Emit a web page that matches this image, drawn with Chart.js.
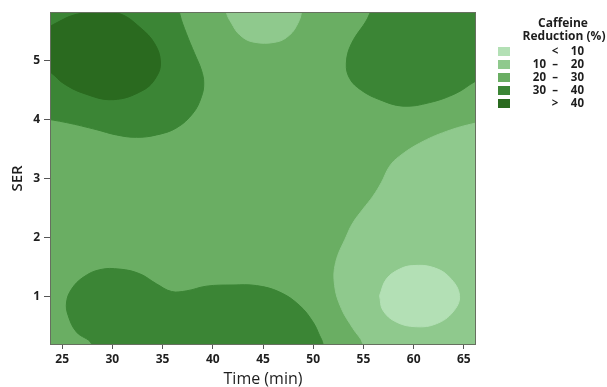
<!DOCTYPE html>
<html>
<head>
<meta charset="utf-8">
<script src="https://cdn.jsdelivr.net/npm/chart.js@4.4.0/dist/chart.umd.min.js"></script>
<style>
  html, body { margin:0; padding:0; background:#fff; }
  #wrap { position:relative; width:607px; height:387px; }
</style>
</head>
<body>
<div id="wrap"><canvas id="grafico"></canvas></div>
<script>
// ── Eixos ─────────────────────────────────────────────
const TEMPO_MIN = 23.79, TEMPO_MAX = 66.21;
const SER_MIN = 0.17, SER_MAX = 5.83;
const tempoTicks = [25, 30, 35, 40, 45, 50, 55, 60, 65];
const serTicks = [1, 2, 3, 4, 5];

// ── Faixas de redução de cafeína (%) ──────────────────
const faixaDe  = ['', '10', '20', '30', ''];
const faixaSim = ['<', '–', '–', '–', '>'];
const faixaAte = ['10', '20', '30', '40', '40'];
const CORES = ['#b3e0b5', '#8fc98d', '#6aae63', '#3b8535', '#2a6a1f'];

// ── Contornos: [tempo, SER] ───────────────────────────
// fundo = faixa 20–30
const c30SupEsq = [[22.8,4.03],[25.44,3.95],[28.42,3.83],[30.41,3.74],[32.40,3.70],[34.39,3.74],[36.38,3.86],
  [38.03,4.11],[38.87,4.39],[39.10,4.62],[38.87,4.84],[38.20,5.12],[37.38,5.46],[36.71,5.80],[36.5,6.1],[22.8,6.1]];
const c40SupEsq = [[23.0,5.50],[24.6,5.66],[26.43,5.79],[28.75,5.81],[30.74,5.80],[32.74,5.57],[34.22,5.29],
  [34.79,4.98],[34.39,4.73],[33.06,4.50],[30.07,4.34],[27.09,4.45],[25.1,4.62],[23.95,4.79],[23.0,4.88]];
const c30SupDir = [[55.7,6.1],[55.62,5.80],[53.80,5.29],[53.30,4.96],[53.63,4.70],[54.79,4.50],[56.61,4.34],
  [58.93,4.23],[61.59,4.29],[64.24,4.45],[66.13,4.65],[67.5,4.75],[67.5,6.1]];
const c20Topo = [[41.2,6.1],[41.36,5.82],[41.86,5.64],[42.69,5.44],[44.0,5.32],[46.33,5.32],[47.66,5.44],
  [48.48,5.64],[48.82,5.82],[48.9,6.1]];
const c20Dir = [[68,3.98],[66.13,3.94],[63.25,3.80],[60.59,3.60],[58.60,3.38],[57.61,3.21],[56.78,2.93],
  [55.95,2.70],[54.95,2.48],[53.96,2.25],[53.30,2.02],[52.23,1.57],[52.13,1.18],[52.80,0.79],[53.96,0.45],
  [54.95,0.19],[55.4,-0.3],[68,-0.3]];
const c10Dir = [[56.61,1.01],[57.28,1.29],[58.60,1.46],[59.93,1.52],[61.92,1.49],[63.58,1.32],[64.57,1.01],
  [63.91,0.73],[62.25,0.53],[60.26,0.48],[58.27,0.56],[56.94,0.76],[56.61,1.01]];
const c30Inf = [[28.2,-0.2],[27.93,0.19],[26.43,0.39],[25.60,0.67],[25.44,0.90],[25.94,1.12],[27.09,1.32],
  [28.75,1.45],[30.74,1.46],[32.73,1.38],[34.39,1.21],[35.89,1.08],[37.38,1.09],[39.37,1.17],[42.01,1.19],
  [44.34,1.18],[46.66,1.07],[48.65,0.84],[49.98,0.56],[50.64,0.33],[50.97,0.19],[51.2,-0.2]];

// ordem de pintura (de baixo para cima) e faixa de cada contorno
const regioes = [
  [c30SupEsq, 3], [c40SupEsq, 4], [c30SupDir, 3], [c20Topo, 1],
  [c20Dir, 1], [c10Dir, 0], [c30Inf, 3],
];

const datasets = regioes.map(([pts, nv]) => ({
  data: pts.map(([x, y]) => ({ x, y })),
  showLine: true, fill: 'shape', tension: 0.4,
  backgroundColor: CORES[nv], borderColor: CORES[nv], borderWidth: 1,
  pointRadius: 0, pointHoverRadius: 0,
})).reverse();   // dataset 0 fica por cima

const TXT = '#1e1e1e';
const FONTE = '"Open Sans", "DejaVu Sans", sans-serif';

// fundo (20–30) + moldura
const moldura = {
  id: 'moldura',
  beforeDatasetsDraw(chart) {
    const { ctx, chartArea: a } = chart;
    ctx.save();
    ctx.fillStyle = CORES[2];
    ctx.fillRect(a.left, a.top, a.right - a.left, a.bottom - a.top);
    ctx.restore();
  },
  afterDatasetsDraw(chart) {
    const { ctx, chartArea: a } = chart;
    ctx.save();
    ctx.strokeStyle = '#66705f';
    ctx.lineWidth = 1;
    ctx.strokeRect(a.left + 0.5, a.top + 0.5, a.right - a.left - 1, a.bottom - a.top - 1);
    ctx.restore();
  },
};

// legenda de faixas
const legendaFaixas = {
  id: 'legendaFaixas',
  afterDraw(chart) {
    const { ctx, chartArea: a } = chart;
    const x0 = a.right + 22;
    ctx.save();
    ctx.fillStyle = TXT;
    ctx.font = `bold 12px ${FONTE}`;
    ctx.textBaseline = 'middle';
    ctx.textAlign = 'center';
    ctx.fillText('Caffeine', x0 + 65, 24);
    ctx.fillText('Reduction (%)', x0 + 66, 37);
    ctx.font = `bold 11.5px ${FONTE}`;
    CORES.forEach((cor, i) => {
      const y = 51.5 + i * 13;
      ctx.fillStyle = cor;
      ctx.fillRect(x0, y - 4.5, 12, 9);
      ctx.fillStyle = TXT;
      ctx.textAlign = 'right';
      ctx.fillText(faixaDe[i], x0 + 48, y);
      ctx.textAlign = 'center';
      ctx.fillText(faixaSim[i], x0 + 57, y);
      ctx.textAlign = 'right';
      ctx.fillText(faixaAte[i], x0 + 86, y);
    });
    ctx.restore();
  },
};

new Chart(document.getElementById('grafico'), {
  type: 'scatter',
  data: { datasets },
  options: {
    responsive: true, maintainAspectRatio: false,
    animation: false, events: [],
    layout: { padding: { top: 12, right: 131, left: 0, bottom: 0 } },
    elements: { line: { capBezierPoints: false } },
    plugins: { legend: { display: false }, tooltip: { enabled: false } },
    scales: {
      x: {
        type: 'linear', min: TEMPO_MIN, max: TEMPO_MAX,
        afterBuildTicks: s => { s.ticks = tempoTicks.map(v => ({ value: v })); },
        afterFit: s => { s.height = 42; },
        grid: { drawOnChartArea: false, tickLength: 4, color: '#555' },
        border: { display: false },
        ticks: { color: TXT, padding: 3, font: { family: FONTE, size: 12, weight: 'bold' } },
        title: { display: true, text: 'Time (min)', color: TXT, padding: 0,
                 font: { family: FONTE, size: 16, lineHeight: 1 } },
      },
      y: {
        type: 'linear', min: SER_MIN, max: SER_MAX,
        afterBuildTicks: s => { s.ticks = serTicks.map(v => ({ value: v })); },
        afterFit: s => { s.width = 50; },
        grid: { drawOnChartArea: false, tickLength: 6, color: '#555' },
        border: { display: false },
        ticks: { color: TXT, padding: 4, font: { family: FONTE, size: 12, weight: 'bold' } },
        title: { display: true, text: 'SER', color: TXT, padding: { top: 10, bottom: 0 },
                 font: { family: FONTE, size: 15, weight: '600', lineHeight: 1 } },
      },
    },
  },
  plugins: [moldura, legendaFaixas],
});
</script>
</body>
</html>
